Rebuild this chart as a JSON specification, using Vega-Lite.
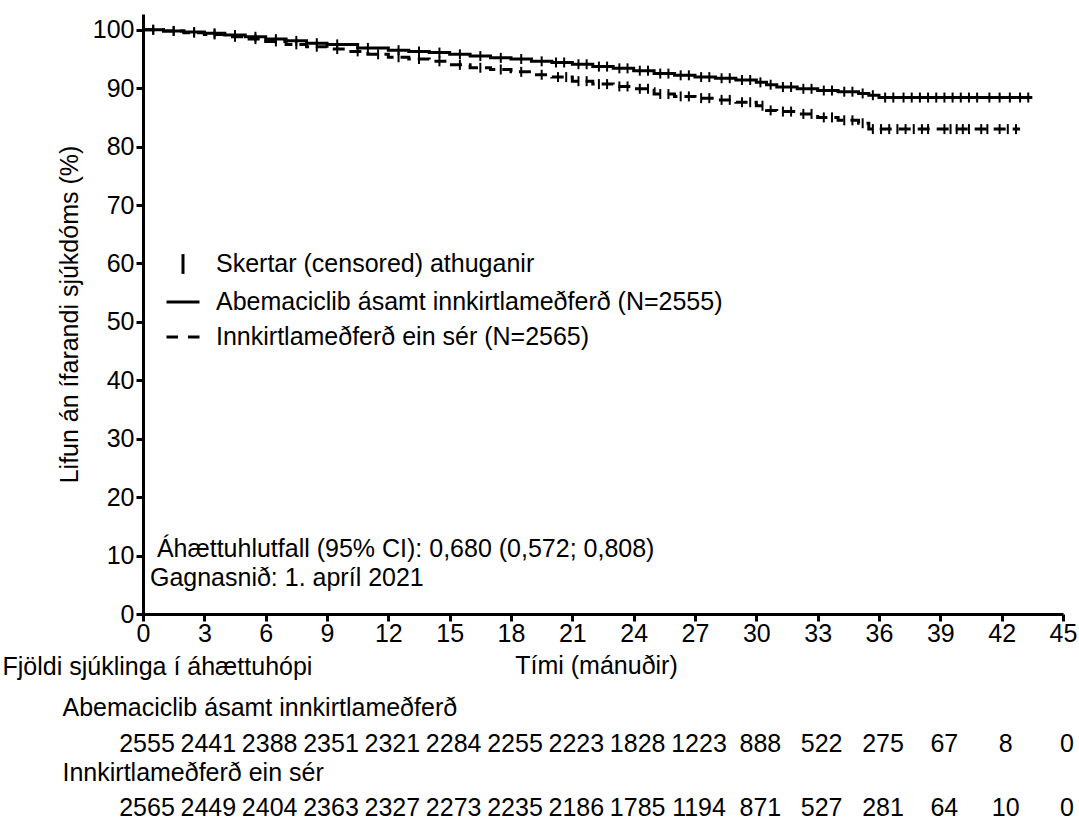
{
  "$schema": "https://vega.github.io/schema/vega-lite/v6.json",
  "background": "white",
  "padding": {"left": 2, "top": 14, "right": 4, "bottom": 0},
  "spacing": -24,
  "config": {
    "font": "Liberation Sans",
    "view": {"stroke": null},
    "axis": {
      "labelFont": "Liberation Sans", "labelFontSize": 25, "labelColor": "black",
      "titleFont": "Liberation Sans", "titleFontSize": 25, "titleFontWeight": "normal", "titleColor": "black",
      "domainColor": "black", "tickColor": "black", "grid": false
    }
  },
  "datasets": {
    "curves": [
      {"arm": "Abemaciclib", "t": 0, "s": 100}, {"arm": "Abemaciclib", "t": 1, "s": 99.8}, {"arm": "Abemaciclib", "t": 2, "s": 99.6},
      {"arm": "Abemaciclib", "t": 3, "s": 99.4}, {"arm": "Abemaciclib", "t": 4, "s": 99.1}, {"arm": "Abemaciclib", "t": 5, "s": 98.8},
      {"arm": "Abemaciclib", "t": 6, "s": 98.4}, {"arm": "Abemaciclib", "t": 7, "s": 98.1}, {"arm": "Abemaciclib", "t": 8, "s": 97.7},
      {"arm": "Abemaciclib", "t": 9, "s": 97.5}, {"arm": "Abemaciclib", "t": 10.5, "s": 96.9}, {"arm": "Abemaciclib", "t": 12, "s": 96.5},
      {"arm": "Abemaciclib", "t": 13, "s": 96.3}, {"arm": "Abemaciclib", "t": 14, "s": 96.1}, {"arm": "Abemaciclib", "t": 15, "s": 95.8},
      {"arm": "Abemaciclib", "t": 16, "s": 95.5}, {"arm": "Abemaciclib", "t": 17, "s": 95.2}, {"arm": "Abemaciclib", "t": 18, "s": 95.0},
      {"arm": "Abemaciclib", "t": 19, "s": 94.6}, {"arm": "Abemaciclib", "t": 20, "s": 94.4}, {"arm": "Abemaciclib", "t": 21, "s": 94.1},
      {"arm": "Abemaciclib", "t": 22, "s": 93.7}, {"arm": "Abemaciclib", "t": 23, "s": 93.4}, {"arm": "Abemaciclib", "t": 24, "s": 93.0},
      {"arm": "Abemaciclib", "t": 25, "s": 92.5}, {"arm": "Abemaciclib", "t": 26, "s": 92.2}, {"arm": "Abemaciclib", "t": 27, "s": 91.9},
      {"arm": "Abemaciclib", "t": 28, "s": 91.7}, {"arm": "Abemaciclib", "t": 29, "s": 91.4}, {"arm": "Abemaciclib", "t": 30, "s": 91.0},
      {"arm": "Abemaciclib", "t": 30.5, "s": 90.6}, {"arm": "Abemaciclib", "t": 31, "s": 90.2}, {"arm": "Abemaciclib", "t": 32, "s": 89.9},
      {"arm": "Abemaciclib", "t": 33, "s": 89.6}, {"arm": "Abemaciclib", "t": 34, "s": 89.4}, {"arm": "Abemaciclib", "t": 35, "s": 89.1},
      {"arm": "Abemaciclib", "t": 35.5, "s": 88.8}, {"arm": "Abemaciclib", "t": 36, "s": 88.4}, {"arm": "Abemaciclib", "t": 43.5, "s": 88.4},
      {"arm": "Innkirtlameðferð", "t": 0, "s": 100}, {"arm": "Innkirtlameðferð", "t": 1, "s": 99.8}, {"arm": "Innkirtlameðferð", "t": 2, "s": 99.5},
      {"arm": "Innkirtlameðferð", "t": 3, "s": 99.2}, {"arm": "Innkirtlameðferð", "t": 4, "s": 98.8}, {"arm": "Innkirtlameðferð", "t": 5, "s": 98.4},
      {"arm": "Innkirtlameðferð", "t": 6, "s": 98.0}, {"arm": "Innkirtlameðferð", "t": 7, "s": 97.5}, {"arm": "Innkirtlameðferð", "t": 8, "s": 97.1},
      {"arm": "Innkirtlameðferð", "t": 9, "s": 96.7}, {"arm": "Innkirtlameðferð", "t": 10, "s": 96.3}, {"arm": "Innkirtlameðferð", "t": 11, "s": 95.8},
      {"arm": "Innkirtlameðferð", "t": 12, "s": 95.3}, {"arm": "Innkirtlameðferð", "t": 13, "s": 95.0}, {"arm": "Innkirtlameðferð", "t": 14, "s": 94.6},
      {"arm": "Innkirtlameðferð", "t": 15, "s": 94.0}, {"arm": "Innkirtlameðferð", "t": 16, "s": 93.5}, {"arm": "Innkirtlameðferð", "t": 17, "s": 93.2},
      {"arm": "Innkirtlameðferð", "t": 18, "s": 92.8}, {"arm": "Innkirtlameðferð", "t": 19, "s": 92.3}, {"arm": "Innkirtlameðferð", "t": 20, "s": 91.9},
      {"arm": "Innkirtlameðferð", "t": 21, "s": 91.2}, {"arm": "Innkirtlameðferð", "t": 22, "s": 90.7}, {"arm": "Innkirtlameðferð", "t": 23, "s": 90.3},
      {"arm": "Innkirtlameðferð", "t": 24, "s": 89.9}, {"arm": "Innkirtlameðferð", "t": 25, "s": 89.0}, {"arm": "Innkirtlameðferð", "t": 26, "s": 88.6},
      {"arm": "Innkirtlameðferð", "t": 27, "s": 88.3}, {"arm": "Innkirtlameðferð", "t": 28, "s": 88.0}, {"arm": "Innkirtlameðferð", "t": 29, "s": 87.6},
      {"arm": "Innkirtlameðferð", "t": 30, "s": 87.0}, {"arm": "Innkirtlameðferð", "t": 30.5, "s": 86.2}, {"arm": "Innkirtlameðferð", "t": 31, "s": 86.0},
      {"arm": "Innkirtlameðferð", "t": 32, "s": 85.6}, {"arm": "Innkirtlameðferð", "t": 33, "s": 85.0}, {"arm": "Innkirtlameðferð", "t": 34, "s": 84.5},
      {"arm": "Innkirtlameðferð", "t": 35, "s": 84.0}, {"arm": "Innkirtlameðferð", "t": 35.5, "s": 83.0}, {"arm": "Innkirtlameðferð", "t": 42.9, "s": 83.0}
    ],
    "censor": [
      {"kind": "Skertar (censored) athuganir", "t": 0.5, "s": 100}, {"kind": "Skertar (censored) athuganir", "t": 1.5, "s": 99.8},
      {"kind": "Skertar (censored) athuganir", "t": 2.5, "s": 99.6}, {"kind": "Skertar (censored) athuganir", "t": 3.5, "s": 99.4},
      {"kind": "Skertar (censored) athuganir", "t": 4.5, "s": 99.1}, {"kind": "Skertar (censored) athuganir", "t": 5.5, "s": 98.8},
      {"kind": "Skertar (censored) athuganir", "t": 6.5, "s": 98.4}, {"kind": "Skertar (censored) athuganir", "t": 7.5, "s": 98.1},
      {"kind": "Skertar (censored) athuganir", "t": 8.5, "s": 97.7}, {"kind": "Skertar (censored) athuganir", "t": 9.5, "s": 97.5},
      {"kind": "Skertar (censored) athuganir", "t": 11, "s": 96.9}, {"kind": "Skertar (censored) athuganir", "t": 12.5, "s": 96.5},
      {"kind": "Skertar (censored) athuganir", "t": 13.5, "s": 96.3}, {"kind": "Skertar (censored) athuganir", "t": 14.5, "s": 96.1},
      {"kind": "Skertar (censored) athuganir", "t": 15.5, "s": 95.8}, {"kind": "Skertar (censored) athuganir", "t": 16.5, "s": 95.5},
      {"kind": "Skertar (censored) athuganir", "t": 17.5, "s": 95.2}, {"kind": "Skertar (censored) athuganir", "t": 18.5, "s": 95.0},
      {"kind": "Skertar (censored) athuganir", "t": 19.5, "s": 94.6}, {"kind": "Skertar (censored) athuganir", "t": 20.2, "s": 94.4},
      {"kind": "Skertar (censored) athuganir", "t": 20.6, "s": 94.4}, {"kind": "Skertar (censored) athuganir", "t": 21.3, "s": 94.1},
      {"kind": "Skertar (censored) athuganir", "t": 21.7, "s": 94.1}, {"kind": "Skertar (censored) athuganir", "t": 22.3, "s": 93.7},
      {"kind": "Skertar (censored) athuganir", "t": 22.7, "s": 93.7}, {"kind": "Skertar (censored) athuganir", "t": 23.3, "s": 93.4},
      {"kind": "Skertar (censored) athuganir", "t": 23.7, "s": 93.4}, {"kind": "Skertar (censored) athuganir", "t": 24.3, "s": 93.0},
      {"kind": "Skertar (censored) athuganir", "t": 24.7, "s": 93.0}, {"kind": "Skertar (censored) athuganir", "t": 25.3, "s": 92.5},
      {"kind": "Skertar (censored) athuganir", "t": 25.7, "s": 92.5}, {"kind": "Skertar (censored) athuganir", "t": 26.3, "s": 92.2},
      {"kind": "Skertar (censored) athuganir", "t": 26.7, "s": 92.2}, {"kind": "Skertar (censored) athuganir", "t": 27.3, "s": 91.9},
      {"kind": "Skertar (censored) athuganir", "t": 27.7, "s": 91.9}, {"kind": "Skertar (censored) athuganir", "t": 28.3, "s": 91.7},
      {"kind": "Skertar (censored) athuganir", "t": 28.7, "s": 91.7}, {"kind": "Skertar (censored) athuganir", "t": 29.3, "s": 91.4},
      {"kind": "Skertar (censored) athuganir", "t": 29.7, "s": 91.4}, {"kind": "Skertar (censored) athuganir", "t": 30.2, "s": 91.0},
      {"kind": "Skertar (censored) athuganir", "t": 30.7, "s": 90.6}, {"kind": "Skertar (censored) athuganir", "t": 31.3, "s": 90.2},
      {"kind": "Skertar (censored) athuganir", "t": 31.7, "s": 90.2}, {"kind": "Skertar (censored) athuganir", "t": 32.3, "s": 89.9},
      {"kind": "Skertar (censored) athuganir", "t": 32.7, "s": 89.9}, {"kind": "Skertar (censored) athuganir", "t": 33.3, "s": 89.6},
      {"kind": "Skertar (censored) athuganir", "t": 33.7, "s": 89.6}, {"kind": "Skertar (censored) athuganir", "t": 34.3, "s": 89.4},
      {"kind": "Skertar (censored) athuganir", "t": 34.7, "s": 89.4}, {"kind": "Skertar (censored) athuganir", "t": 35.2, "s": 89.1},
      {"kind": "Skertar (censored) athuganir", "t": 35.7, "s": 88.8}, {"kind": "Skertar (censored) athuganir", "t": 36.3, "s": 88.4},
      {"kind": "Skertar (censored) athuganir", "t": 36.7, "s": 88.4}, {"kind": "Skertar (censored) athuganir", "t": 37.2, "s": 88.4},
      {"kind": "Skertar (censored) athuganir", "t": 37.6, "s": 88.4}, {"kind": "Skertar (censored) athuganir", "t": 38.0, "s": 88.4},
      {"kind": "Skertar (censored) athuganir", "t": 38.4, "s": 88.4}, {"kind": "Skertar (censored) athuganir", "t": 38.8, "s": 88.4},
      {"kind": "Skertar (censored) athuganir", "t": 39.2, "s": 88.4}, {"kind": "Skertar (censored) athuganir", "t": 39.6, "s": 88.4},
      {"kind": "Skertar (censored) athuganir", "t": 40.0, "s": 88.4}, {"kind": "Skertar (censored) athuganir", "t": 40.4, "s": 88.4},
      {"kind": "Skertar (censored) athuganir", "t": 40.8, "s": 88.4}, {"kind": "Skertar (censored) athuganir", "t": 41.4, "s": 88.4},
      {"kind": "Skertar (censored) athuganir", "t": 41.9, "s": 88.4}, {"kind": "Skertar (censored) athuganir", "t": 42.4, "s": 88.4},
      {"kind": "Skertar (censored) athuganir", "t": 42.9, "s": 88.4}, {"kind": "Skertar (censored) athuganir", "t": 43.3, "s": 88.4},
      {"kind": "Skertar (censored) athuganir", "t": 0.5, "s": 100}, {"kind": "Skertar (censored) athuganir", "t": 1.5, "s": 99.8},
      {"kind": "Skertar (censored) athuganir", "t": 2.5, "s": 99.5}, {"kind": "Skertar (censored) athuganir", "t": 3.5, "s": 99.2},
      {"kind": "Skertar (censored) athuganir", "t": 4.5, "s": 98.8}, {"kind": "Skertar (censored) athuganir", "t": 5.5, "s": 98.4},
      {"kind": "Skertar (censored) athuganir", "t": 6.5, "s": 98.0}, {"kind": "Skertar (censored) athuganir", "t": 7.5, "s": 97.5},
      {"kind": "Skertar (censored) athuganir", "t": 8.5, "s": 97.1}, {"kind": "Skertar (censored) athuganir", "t": 9.5, "s": 96.7},
      {"kind": "Skertar (censored) athuganir", "t": 10.5, "s": 96.3}, {"kind": "Skertar (censored) athuganir", "t": 11.5, "s": 95.8},
      {"kind": "Skertar (censored) athuganir", "t": 12.5, "s": 95.3}, {"kind": "Skertar (censored) athuganir", "t": 13.5, "s": 95.0},
      {"kind": "Skertar (censored) athuganir", "t": 14.5, "s": 94.6}, {"kind": "Skertar (censored) athuganir", "t": 15.5, "s": 94.0},
      {"kind": "Skertar (censored) athuganir", "t": 16.5, "s": 93.5}, {"kind": "Skertar (censored) athuganir", "t": 17.5, "s": 93.2},
      {"kind": "Skertar (censored) athuganir", "t": 18.5, "s": 92.8}, {"kind": "Skertar (censored) athuganir", "t": 19.5, "s": 92.3},
      {"kind": "Skertar (censored) athuganir", "t": 20.3, "s": 91.9}, {"kind": "Skertar (censored) athuganir", "t": 20.7, "s": 91.9},
      {"kind": "Skertar (censored) athuganir", "t": 21.3, "s": 91.2}, {"kind": "Skertar (censored) athuganir", "t": 21.7, "s": 91.2},
      {"kind": "Skertar (censored) athuganir", "t": 22.3, "s": 90.7}, {"kind": "Skertar (censored) athuganir", "t": 22.7, "s": 90.7},
      {"kind": "Skertar (censored) athuganir", "t": 23.3, "s": 90.3}, {"kind": "Skertar (censored) athuganir", "t": 23.7, "s": 90.3},
      {"kind": "Skertar (censored) athuganir", "t": 24.3, "s": 89.9}, {"kind": "Skertar (censored) athuganir", "t": 24.7, "s": 89.9},
      {"kind": "Skertar (censored) athuganir", "t": 25.3, "s": 89.0}, {"kind": "Skertar (censored) athuganir", "t": 25.7, "s": 89.0},
      {"kind": "Skertar (censored) athuganir", "t": 26.3, "s": 88.6}, {"kind": "Skertar (censored) athuganir", "t": 26.7, "s": 88.6},
      {"kind": "Skertar (censored) athuganir", "t": 27.3, "s": 88.3}, {"kind": "Skertar (censored) athuganir", "t": 27.7, "s": 88.3},
      {"kind": "Skertar (censored) athuganir", "t": 28.3, "s": 88.0}, {"kind": "Skertar (censored) athuganir", "t": 28.7, "s": 88.0},
      {"kind": "Skertar (censored) athuganir", "t": 29.3, "s": 87.6}, {"kind": "Skertar (censored) athuganir", "t": 29.7, "s": 87.6},
      {"kind": "Skertar (censored) athuganir", "t": 30.3, "s": 87.0}, {"kind": "Skertar (censored) athuganir", "t": 30.7, "s": 86.2},
      {"kind": "Skertar (censored) athuganir", "t": 31.3, "s": 86.0}, {"kind": "Skertar (censored) athuganir", "t": 31.7, "s": 86.0},
      {"kind": "Skertar (censored) athuganir", "t": 32.3, "s": 85.6}, {"kind": "Skertar (censored) athuganir", "t": 32.7, "s": 85.6},
      {"kind": "Skertar (censored) athuganir", "t": 33.3, "s": 85.0}, {"kind": "Skertar (censored) athuganir", "t": 33.7, "s": 85.0},
      {"kind": "Skertar (censored) athuganir", "t": 34.3, "s": 84.5}, {"kind": "Skertar (censored) athuganir", "t": 34.7, "s": 84.5},
      {"kind": "Skertar (censored) athuganir", "t": 35.2, "s": 84.0}, {"kind": "Skertar (censored) athuganir", "t": 35.7, "s": 83.0},
      {"kind": "Skertar (censored) athuganir", "t": 36.1, "s": 83.0}, {"kind": "Skertar (censored) athuganir", "t": 36.5, "s": 83.0},
      {"kind": "Skertar (censored) athuganir", "t": 36.9, "s": 83.0}, {"kind": "Skertar (censored) athuganir", "t": 37.3, "s": 83.0},
      {"kind": "Skertar (censored) athuganir", "t": 37.7, "s": 83.0}, {"kind": "Skertar (censored) athuganir", "t": 38.1, "s": 83.0},
      {"kind": "Skertar (censored) athuganir", "t": 38.4, "s": 83.0}, {"kind": "Skertar (censored) athuganir", "t": 39.2, "s": 83.0},
      {"kind": "Skertar (censored) athuganir", "t": 39.5, "s": 83.0}, {"kind": "Skertar (censored) athuganir", "t": 39.8, "s": 83.0},
      {"kind": "Skertar (censored) athuganir", "t": 40.1, "s": 83.0}, {"kind": "Skertar (censored) athuganir", "t": 40.4, "s": 83.0},
      {"kind": "Skertar (censored) athuganir", "t": 41.0, "s": 83.0}, {"kind": "Skertar (censored) athuganir", "t": 41.3, "s": 83.0},
      {"kind": "Skertar (censored) athuganir", "t": 41.9, "s": 83.0}, {"kind": "Skertar (censored) athuganir", "t": 42.3, "s": 83.0},
      {"kind": "Skertar (censored) athuganir", "t": 42.7, "s": 83.0}
    ],
    "risk": [
      {"arm": "Abemaciclib ásamt innkirtlameðferð", "t": 0, "n": 2555}, {"arm": "Abemaciclib ásamt innkirtlameðferð", "t": 3, "n": 2441},
      {"arm": "Abemaciclib ásamt innkirtlameðferð", "t": 6, "n": 2388}, {"arm": "Abemaciclib ásamt innkirtlameðferð", "t": 9, "n": 2351},
      {"arm": "Abemaciclib ásamt innkirtlameðferð", "t": 12, "n": 2321}, {"arm": "Abemaciclib ásamt innkirtlameðferð", "t": 15, "n": 2284},
      {"arm": "Abemaciclib ásamt innkirtlameðferð", "t": 18, "n": 2255}, {"arm": "Abemaciclib ásamt innkirtlameðferð", "t": 21, "n": 2223},
      {"arm": "Abemaciclib ásamt innkirtlameðferð", "t": 24, "n": 1828}, {"arm": "Abemaciclib ásamt innkirtlameðferð", "t": 27, "n": 1223},
      {"arm": "Abemaciclib ásamt innkirtlameðferð", "t": 30, "n": 888}, {"arm": "Abemaciclib ásamt innkirtlameðferð", "t": 33, "n": 522},
      {"arm": "Abemaciclib ásamt innkirtlameðferð", "t": 36, "n": 275}, {"arm": "Abemaciclib ásamt innkirtlameðferð", "t": 39, "n": 67},
      {"arm": "Abemaciclib ásamt innkirtlameðferð", "t": 42, "n": 8}, {"arm": "Abemaciclib ásamt innkirtlameðferð", "t": 45, "n": 0},
      {"arm": "Innkirtlameðferð ein sér", "t": 0, "n": 2565}, {"arm": "Innkirtlameðferð ein sér", "t": 3, "n": 2449},
      {"arm": "Innkirtlameðferð ein sér", "t": 6, "n": 2404}, {"arm": "Innkirtlameðferð ein sér", "t": 9, "n": 2363},
      {"arm": "Innkirtlameðferð ein sér", "t": 12, "n": 2327}, {"arm": "Innkirtlameðferð ein sér", "t": 15, "n": 2273},
      {"arm": "Innkirtlameðferð ein sér", "t": 18, "n": 2235}, {"arm": "Innkirtlameðferð ein sér", "t": 21, "n": 2186},
      {"arm": "Innkirtlameðferð ein sér", "t": 24, "n": 1785}, {"arm": "Innkirtlameðferð ein sér", "t": 27, "n": 1194},
      {"arm": "Innkirtlameðferð ein sér", "t": 30, "n": 871}, {"arm": "Innkirtlameðferð ein sér", "t": 33, "n": 527},
      {"arm": "Innkirtlameðferð ein sér", "t": 36, "n": 281}, {"arm": "Innkirtlameðferð ein sér", "t": 39, "n": 64},
      {"arm": "Innkirtlameðferð ein sér", "t": 42, "n": 10}, {"arm": "Innkirtlameðferð ein sér", "t": 45, "n": 0}
    ]
  },
  "vconcat": [
    {
      "width": 920,
      "height": 600,
      "layer": [
        {
          "data": {"name": "curves"},
          "mark": {"type": "line", "interpolate": "step-after", "strokeWidth": 3, "color": "black"},
          "encoding": {
            "x": {
              "field": "t", "type": "quantitative",
              "scale": {"domain": [0, 45], "nice": false},
              "axis": {
                "title": "Tími (mánuðir)", "values": [0, 3, 6, 9, 12, 15, 18, 21, 24, 27, 30, 33, 36, 39, 42, 45],
                "domainWidth": 3, "tickWidth": 3, "tickSize": 7, "labelPadding": 0, "titlePadding": 7,
                "labelFlush": false, "labelOverlap": false, "titleX": 453
              }
            },
            "y": {
              "field": "s", "type": "quantitative",
              "scale": {"domain": [0, 102.7], "nice": false},
              "axis": {
                "title": "Lifun án ífarandi sjúkdóms (%)", "values": [0, 10, 20, 30, 40, 50, 60, 70, 80, 90, 100],
                "domainWidth": 3, "tickWidth": 3, "tickSize": 7, "labelPadding": 2, "titlePadding": 10,
                "labelFlush": false, "labelOverlap": false
              }
            },
            "strokeDash": {
              "field": "arm", "type": "nominal",
              "scale": {"domain": ["Abemaciclib", "Innkirtlameðferð"], "range": [[1, 0], [12, 7]]},
              "legend": null
            },
            "detail": {"field": "arm"}
          }
        },
        {
          "data": {"name": "censor"},
          "mark": {"type": "point", "filled": false, "size": 277, "strokeWidth": 2, "color": "black", "opacity": 1},
          "encoding": {
            "x": {"field": "t", "type": "quantitative", "scale": {"domain": [0, 45], "nice": false}},
            "y": {"field": "s", "type": "quantitative", "scale": {"domain": [0, 102.7], "nice": false}},
            "shape": {
              "field": "kind", "type": "nominal",
              "scale": {
                "domain": ["Skertar (censored) athuganir", "Abemaciclib ásamt innkirtlameðferð (N=2555)", "Innkirtlameðferð ein sér (N=2565)"],
                "range": ["M0,-0.6V0.6", "M-1,0H1", "M-1,0H-0.3M0.3,0H1"]
              },
              "legend": {
                "orient": "none", "legendX": 22, "legendY": 232, "title": null,
                "labelFontSize": 25, "labelFont": "Liberation Sans", "labelColor": "black", "labelLimit": 0,
                "symbolSize": 1089, "symbolStrokeWidth": 3, "symbolStrokeColor": "black", "symbolFillColor": "transparent",
                "labelOffset": 15, "rowPadding": 4, "padding": 0
              }
            }
          }
        },
        {
          "data": {"values": [{"note": "Áhættuhlutfall (95% CI): 0,680 (0,572; 0,808)"}]},
          "mark": {"type": "text", "align": "left", "baseline": "middle", "fontSize": 25, "font": "Liberation Sans", "color": "black"},
          "encoding": {
            "x": {"datum": 0.68, "type": "quantitative"},
            "y": {"datum": 11.1, "type": "quantitative"},
            "text": {"field": "note"}
          }
        },
        {
          "data": {"values": [{"note": "Gagnasnið: 1. apríl 2021"}]},
          "mark": {"type": "text", "align": "left", "baseline": "middle", "fontSize": 25, "font": "Liberation Sans", "color": "black"},
          "encoding": {
            "x": {"datum": 0.34, "type": "quantitative"},
            "y": {"datum": 6.2, "type": "quantitative"},
            "text": {"field": "note"}
          }
        }
      ]
    },
    {
      "width": 920,
      "height": 90,
      "data": {"name": "risk"},
      "mark": {"type": "text", "align": "center", "baseline": "middle", "fontSize": 25, "font": "Liberation Sans", "color": "black", "dx": 4},
      "encoding": {
        "x": {"field": "t", "type": "quantitative", "scale": {"domain": [0, 45], "nice": false}, "axis": null},
        "y": {
          "field": "arm", "type": "nominal",
          "scale": {"type": "point", "padding": 0.2, "domain": ["Abemaciclib ásamt innkirtlameðferð", "Innkirtlameðferð ein sér"]},
          "axis": {
            "title": "Fjöldi sjúklinga í áhættuhópi", "domain": false, "ticks": false, "tickSize": 0,
            "labelAlign": "left", "labelBaseline": "middle", "labelPadding": 81, "labelOffset": -36, "labelFontSize": 25, "labelLimit": 0,
            "titleAngle": 0, "titleAlign": "left", "titleBaseline": "middle", "titleX": -141, "titleY": -65
          }
        },
        "text": {"field": "n", "type": "quantitative"}
      }
    }
  ]
}
